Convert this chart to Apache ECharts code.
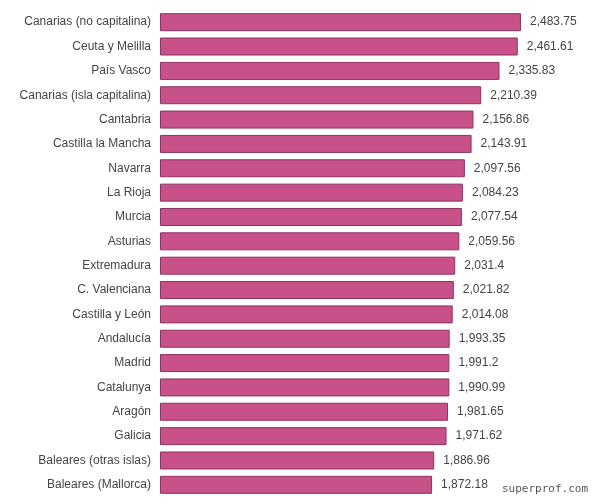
<!DOCTYPE html>
<html>
<head>
<meta charset="utf-8">
<script src="https://cdn.jsdelivr.net/npm/echarts@6/dist/echarts.min.js"></script>
<style>html,body{margin:0;padding:0;background:#fff}#chart{width:598px;height:504px}</style>
</head>
<body>
<div id="chart"></div>
<script>
var chart = echarts.init(document.getElementById('chart'));
var regions = ['Canarias (no capitalina)', 'Ceuta y Melilla', 'País Vasco', 'Canarias (isla capitalina)',
    'Cantabria', 'Castilla la Mancha', 'Navarra', 'La Rioja', 'Murcia', 'Asturias', 'Extremadura',
    'C. Valenciana', 'Castilla y León', 'Andalucía', 'Madrid', 'Catalunya', 'Aragón', 'Galicia',
    'Baleares (otras islas)', 'Baleares (Mallorca)'];
var values = [2483.75, 2461.61, 2335.83, 2210.39, 2156.86, 2143.91, 2097.56, 2084.23, 2077.54, 2059.56,
    2031.4, 2021.82, 2014.08, 1993.35, 1991.2, 1990.99, 1981.65, 1971.62, 1886.96, 1872.18];

option = {
    animation: false,
    grid: { left: 160, right: 2, top: 10, bottom: 7 },
    xAxis: { type: 'value', min: 0, max: 3000, show: false },
    yAxis: {
        type: 'category',
        inverse: true,
        data: regions,
        axisLine: { show: false },
        axisTick: { show: false },
        axisLabel: { color: '#444', fontSize: 12, fontFamily: 'Arial, Liberation Sans', margin: 9 }
    },
    series: [{
        type: 'bar',
        data: values,
        barWidth: 18,
        itemStyle: { color: '#c8518a', borderColor: '#8a3560', borderWidth: 1 },
        label: {
            show: true,
            position: 'right',
            distance: 9,
            color: '#444',
            fontSize: 12,
            fontFamily: 'Arial, Liberation Sans',
            formatter: function (p) { return p.value.toLocaleString('en-US'); }
        }
    }],
    graphic: [{
        type: 'text', right: 10, bottom: 9,
        style: { text: 'superprof.com', fill: '#555', font: '11px "DejaVu Sans Mono", monospace' }
    }]
};
chart.setOption(option);
</script>
</body>
</html>
